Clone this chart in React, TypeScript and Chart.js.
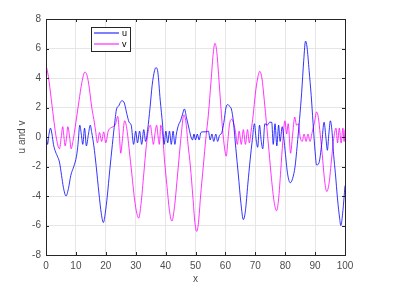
import React, { useEffect, useRef } from "react";
import { Chart, registerables } from "chart.js";

Chart.register(...registerables);

const uX = [0,0.5,1,1.5,2,2.5,3,3.8,4.5,5.2,5.8,6.7,7.5,8.3,9.3,10.2,10.7,11.3,11.8,12.3,12.9,13.5,14.2,14.8,15.3,16,16.8,17.7,18.5,19.2,19.8,20.5,21.3,22.2,23,23.6,24.3,25,25.5,26.2,27,27.8,28.5,29.3,30,30.6,31.3,32,32.7,33.3,34,34.8,35.5,36.3,36.8,37.4,38.2,39,39.5,40.1,40.7,41.3,41.9,42.5,43.1,43.6,44.3,45,45.6,46.3,47,47.8,48.5,49,49.5,50,50.6,51.2,51.8,52.5,53.5,54.3,54.9,55.5,56.1,56.8,57.4,58,58.8,59.5,60.2,60.8,61.5,62,62.7,63.5,64.3,65.2,66,66.7,67.5,68.3,69,69.7,70.3,70.8,71.4,72,72.5,73.2,74,74.8,75.5,76,76.6,77.2,77.8,78.3,79,79.5,80.1,80.8,81.7,82.5,83.3,84,84.8,85.5,86.2,86.8,87.3,88,88.7,89.3,90,90.5,91.3,92.2,93,93.6,94.1,94.6,95.1,95.6,96.2,96.8,97.5,98.2,98.6,99.3,100];
const uY = [0.3,-0.5,0.2,0.6,0.2,-0.5,-0.9,-1.3,-1.7,-2.6,-3.4,-4.0,-3.5,-2.6,-2.0,-1.3,-0.5,0.8,0.2,-0.5,0.6,-0.6,0.2,0.8,0.3,-0.6,-2,-3.8,-5.2,-5.8,-5.2,-4,-2.3,-0.5,1,1.9,2.1,2.4,2.45,2.3,1.6,1.0,0.8,-0.5,0.4,-0.4,0.4,-0.5,0.5,-0.3,0.5,2,3.5,4.5,4.7,4.4,2.5,0.8,-0.5,0.4,-0.4,0.4,-0.5,0.4,-0.5,0.2,0.8,1.1,1.5,1.9,1.3,0.6,0,-0.2,0.2,-0.2,0.2,-0.2,0.3,0.35,0.35,0.4,-0.2,0.2,-0.3,0.2,-0.3,0.1,0.3,1,2,2.2,2.05,1.9,1,-0.8,-2.5,-4.5,-5.6,-5,-3.2,-1.5,-0.2,0.9,-0.2,-0.7,0.8,-0.3,-0.8,0.9,0.8,1.0,1.0,-0.5,0.9,-0.6,0.8,-0.3,0.7,0,-1.2,-2.5,-3.1,-2.8,-2.0,-0.6,1.2,3,5.2,6.5,6.1,4.5,2.8,1.0,-1.0,-1.9,-1.75,-0.5,1.0,0,-0.9,0.2,1.1,0.5,-1.2,-2.5,-4.2,-5.5,-6.0,-5.0,-3.3];

const vX = [0,0.8,1.8,2.7,3.4,4.5,5.1,5.6,6.0,6.4,6.9,7.3,7.9,8.4,9,10,11,12,13,13.7,14.5,15.3,16,16.6,17.2,17.9,18.6,19.3,20,20.8,21.5,22.5,23.2,24,24.5,25,25.5,26.3,27,27.8,28.7,29.6,30.4,31,31.8,32.7,33.6,34.3,34.9,35.5,35.9,36.5,37,37.5,37.9,38.4,39,39.6,40.4,41.3,42.1,43,43.8,44.6,45.3,46.1,46.8,47.5,48.3,49.1,49.8,50.4,51,51.7,52.6,53.5,54.3,55.2,56,56.5,57.1,57.8,58.5,59.2,59.9,60.3,60.8,61.4,62.1,62.8,63.4,64,64.6,65.3,66,66.7,67.4,68,68.6,69.3,70,70.8,71.5,72.2,73,73.8,74.6,75.4,76.3,77.1,77.8,78.5,79.2,79.9,80.5,81.0,81.8,82.4,83.2,83.8,84.4,85,85.7,86.3,87,87.6,88.3,89,89.8,90.5,91.1,91.7,92.4,93.1,93.9,94.7,95.5,96.3,97,97.5,98.1,98.7,99.3,99.7,100];
const vY = [4.9,4.1,2.5,1.0,0,-0.8,0,0.7,0,-0.6,0,0.7,0,-0.8,-0.3,1.0,2.4,3.7,4.4,4.2,3.3,2,1.2,0.4,-0.4,0.3,-0.3,0.35,-0.4,0.4,0.6,0.7,0.85,1.4,0.3,-1.1,-0.3,1.1,0.6,-0.8,-2.5,-4.2,-5.2,-5.5,-4.5,-2.5,-0.5,0.5,0.8,0,-0.5,0.3,0.8,0,-0.5,0.8,0.2,-1.5,-3.2,-5,-5.7,-4.7,-3,-1.2,0.3,1.5,1.0,-0.5,-2,-4,-5.8,-6.4,-5.8,-4,-2,0,1.5,3.8,5.8,6.35,5.8,4,2,0.2,-1.0,-1.3,-0.3,0.9,1.2,0.9,0.3,-0.5,0.4,-0.5,0.5,-0.5,0.5,-0.4,0.4,1.5,2.9,4.0,4.45,4.0,2.5,0.8,-1.0,-2.8,-4.4,-5.0,-4.2,-2.3,-0.3,1.1,0.2,0.9,-1.1,0,1.35,0.8,0.9,0,-0.3,0.2,-0.3,0.2,-0.3,0.3,1.0,1.7,1.3,0.2,-1.2,-2.8,-3.7,-3.1,-1.5,0,0.6,-0.4,0.6,-0.4,0.6,-0.3,0.5];

const xTicks = [0,10,20,30,40,50,60,70,80,90,100];
const yTicks = [-8,-6,-4,-2,0,2,4,6,8];
const seriesNames = ["u", "v"];
const seriesColors = ["#0000ff", "#ff00ff"];

const FONT = "'Liberation Sans', Arial, sans-serif";
const AXIS_COLOR = "#262626";
const TEXT_COLOR = "#4d4d4d";

const boxPlugin = {
  id: "matlabBox",
  afterDraw(chart: any) {
    const { ctx, chartArea: a, scales } = chart;
    ctx.save();
    ctx.strokeStyle = AXIS_COLOR;
    ctx.lineWidth = 1;
    ctx.strokeRect(Math.round(a.left) + 0.5, Math.round(a.top) + 0.5, Math.round(a.right - a.left), Math.round(a.bottom - a.top));
    const tl = 3;
    ctx.beginPath();
    xTicks.forEach((t) => {
      const px = Math.round(scales.x.getPixelForValue(t)) + 0.5;
      ctx.moveTo(px, a.bottom); ctx.lineTo(px, a.bottom - tl);
      ctx.moveTo(px, a.top); ctx.lineTo(px, a.top + tl);
    });
    yTicks.forEach((t) => {
      const py = Math.round(scales.y.getPixelForValue(t)) + 0.5;
      ctx.moveTo(a.left, py); ctx.lineTo(a.left + tl, py);
      ctx.moveTo(a.right, py); ctx.lineTo(a.right - tl, py);
    });
    ctx.stroke();
    // legend
    const lx = 91, ly = 27, lw = 39, lh = 24;
    ctx.fillStyle = "#ffffff";
    ctx.fillRect(lx, ly, lw, lh);
    ctx.strokeStyle = AXIS_COLOR;
    ctx.strokeRect(lx + 0.5, ly + 0.5, lw, lh);
    ctx.font = "9px " + FONT;
    ctx.textBaseline = "middle";
    seriesNames.forEach((n, i) => {
      const y = ly + 6 + i * 11;
      ctx.strokeStyle = seriesColors[i];
      ctx.lineWidth = 1;
      ctx.beginPath();
      ctx.moveTo(94, y); ctx.lineTo(119, y);
      ctx.stroke();
      ctx.fillStyle = "#000000";
      ctx.fillText(n, 122, y + 0.5);
    });
    ctx.restore();
  },
};

export default function App() {
  const ref = useRef<HTMLCanvasElement>(null);
  useEffect(() => {
    if (!ref.current) return;
    const mk = (xs: number[], ys: number[]) => xs.map((x, i) => ({ x, y: ys[i] }));
    const chart = new Chart(ref.current, {
      type: "line",
      data: {
        datasets: [
          { label: seriesNames[0], data: mk(uX, uY), borderColor: seriesColors[0], borderWidth: 0.8, pointRadius: 0, cubicInterpolationMode: "monotone" },
          { label: seriesNames[1], data: mk(vX, vY), borderColor: seriesColors[1], borderWidth: 0.8, pointRadius: 0, cubicInterpolationMode: "monotone" },
        ],
      },
      options: {
        animation: false,
        responsive: false,
        maintainAspectRatio: false,
        layout: { padding: { left: 0, top: 19, right: 55, bottom: 0 } },
        plugins: { legend: { display: false }, tooltip: { enabled: false } },
        scales: {
          x: {
            type: "linear",
            min: 0,
            max: 100,
            afterBuildTicks: (s: any) => { s.ticks = xTicks.map((v) => ({ value: v })); },
            afterFit: (s: any) => { s.height = 34; },
            grid: { color: "#e6e6e6", lineWidth: 1, tickLength: 0, drawTicks: false },
            border: { display: false },
            ticks: { color: TEXT_COLOR, font: { family: FONT, size: 10 }, padding: 5, maxRotation: 0 },
            title: { display: true, text: "x", color: TEXT_COLOR, font: { family: FONT, size: 10 }, padding: { top: 0, bottom: 4 } },
          },
          y: {
            type: "linear",
            min: -8,
            max: 8,
            afterBuildTicks: (s: any) => { s.ticks = yTicks.map((v) => ({ value: v })); },
            afterFit: (s: any) => { s.width = 46; },
            grid: { color: "#e6e6e6", lineWidth: 1, tickLength: 0, drawTicks: false },
            border: { display: false },
            ticks: { color: TEXT_COLOR, font: { family: FONT, size: 10 }, padding: 5 },
            title: { display: true, text: "u and v", color: TEXT_COLOR, font: { family: FONT, size: 10 }, padding: { top: 16, bottom: 0 } },
          },
        },
      },
      plugins: [boxPlugin],
    } as any);
    return () => chart.destroy();
  }, []);
  return (
    <div style={{ position: "fixed", left: 0, top: 0, width: 400, height: 289, background: "#fff" }}>
      <canvas ref={ref} width={400} height={289} style={{ display: "block" }} />
    </div>
  );
}
